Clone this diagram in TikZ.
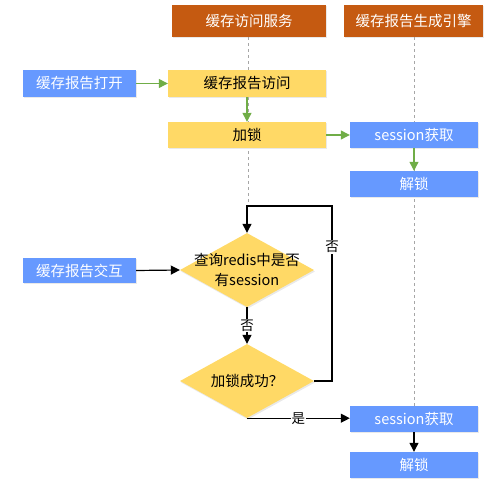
\documentclass[tikz,border=0pt]{standalone}
\usepackage{fontspec}
\setmainfont{Noto Sans CJK SC}
\usetikzlibrary{shapes.geometric,arrows.meta,shadows}
\definecolor{hdr}{HTML}{C55A11}
\definecolor{blu}{HTML}{6699FF}
\definecolor{yel}{HTML}{FFD966}
\definecolor{grn}{HTML}{70AD47}
\definecolor{life}{HTML}{A6A6A6}
\tikzset{
  shd/.style={drop shadow={shadow xshift=1pt,shadow yshift=-1.5pt,fill=black!25,opacity=0.35}},
  boxfont/.style={font=\fontsize{14.5}{16}\selectfont},
  hdrbox/.style={fill=hdr,text=white,minimum height=32pt,inner sep=0pt,boxfont,shd},
  bluebox/.style={fill=blu,text=white,minimum width=128pt,minimum height=26pt,inner sep=0pt,boxfont,shd},
  yelbox/.style={fill=yel,text=black,minimum width=158pt,minimum height=26pt,inner sep=0pt,boxfont,shd},
  decide/.style={diamond,fill=yel,minimum width=134pt,minimum height=74pt,inner sep=0pt,shd},
  dtext/.style={text=black,align=center,font=\fontsize{14.5}{20}\selectfont,inner sep=0pt},
  lifeline/.style={draw=life,dashed,line width=0.9pt},
  garrow/.style={draw=grn,line width=1.2pt,-{Triangle[length=9pt,width=9pt]}},
  barrow/.style={draw=black,line width=1.2pt,-{Triangle[length=9pt,width=9pt]}},
  lbl/.style={fill=white,text=black,inner sep=1pt,font=\fontsize{13.5}{15}\selectfont}
}
\begin{document}
\begin{tikzpicture}[x=1pt,y=-1pt]
\useasboundingbox (0,0) rectangle (488,486);
% headers
\node[hdrbox,minimum width=154pt] (h1) at (249,21) {缓存访问服务};
\node[hdrbox,minimum width=139pt] (h2) at (413.5,21) {缓存报告生成引擎};
% lifelines
\coordinate (l1end) at (248,206);
\coordinate (l2end) at (414,406);
\draw[lifeline] (h1.south -| l1end) -- (l1end);
\draw[lifeline] (h2.south -| l2end) -- (l2end);
% boxes
\node[bluebox,minimum width=113pt,minimum height=27pt] (open) at (79.5,83.5) {缓存报告打开};
\node[yelbox,minimum height=27pt] (visit) at (247,83.5) {缓存报告访问};
\node[yelbox] (lock) at (247,135) {加锁};
\node[bluebox] (sget1) at (414,135) {session获取};
\node[bluebox] (unlock1) at (414,184) {解锁};
\node[bluebox,minimum width=113pt,minimum height=25pt] (inter) at (79.5,270.5) {缓存报告交互};
\node[decide] (d1) at (247,270) {};
\node[dtext] (d1t) at (d1.center) {查询redis中是否\\有session};
\node[decide] (d2) at (247,381) {};
\node[dtext] (d2t) at (d2.center) {加锁成功？};
\node[bluebox] (sget2) at (414,419) {session获取};
\node[bluebox] (unlock2) at (414,465) {解锁};
% green arrows
\draw[garrow] (open.east) -- (visit.west);
\draw[garrow] (visit.south) -- (lock.north);
\draw[garrow] (lock.east) -- (sget1.west);
\draw[garrow] (sget1.south) -- (unlock1.north);
% black arrows
\draw[barrow] (inter.east) -- (d1.west);
\draw[barrow] (d1.south) -- node[lbl] (no1) {否} (d2.north);
\coordinate (loopR) at (332,206);
\draw[barrow] (d2.east) -| (loopR) -| (d1.north);
\node[lbl] (no2) at (332,247) {否};
\draw[barrow] (d2.south) -- node[lbl,pos=0.5] (yes) {是} (d2.south -| sget2.west);
\draw[barrow] (sget2.south) -- (unlock2.north);
\end{tikzpicture}
\end{document}
